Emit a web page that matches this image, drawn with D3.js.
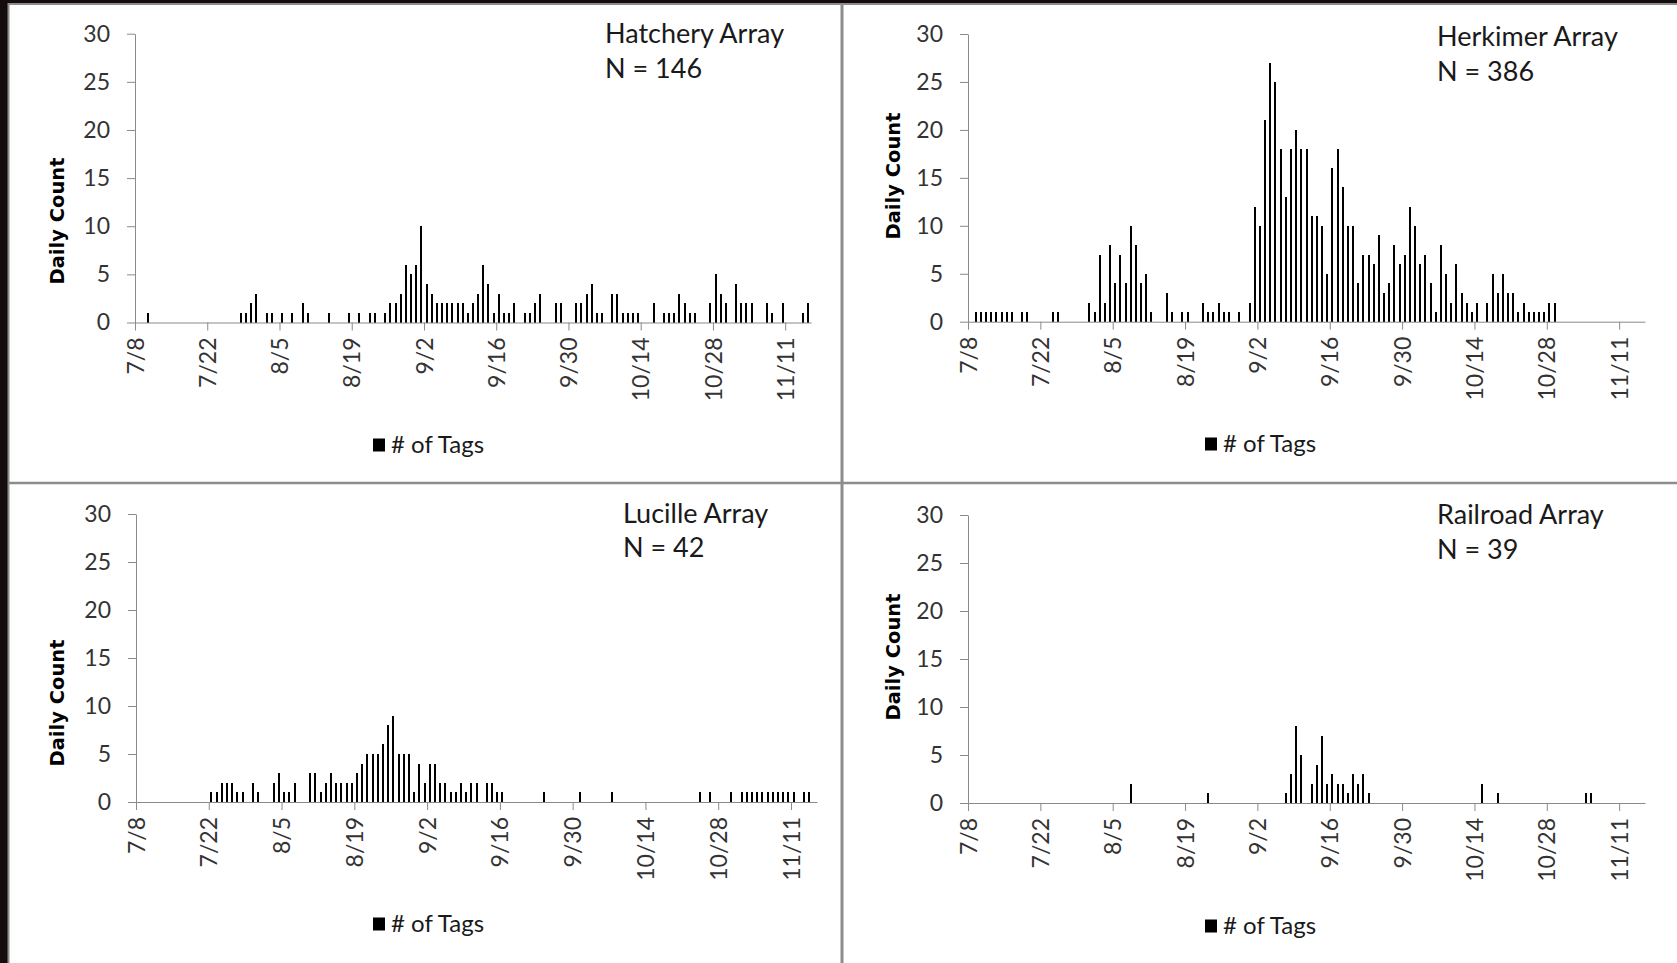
<!DOCTYPE html>
<html>
<head>
<meta charset="utf-8">
<style>
  body { margin: 0; background: #150d0d; }
  svg { display: block; }
  .tick text { font-family: Lato, "Open Sans", sans-serif; font-size: 23px; fill: #333; }
  .axis path, .axis line { stroke: #8a8a8a; stroke-width: 1px; }
  .ttl { font-family: Lato, "Open Sans", sans-serif; font-size: 27px; fill: #1a1a1a; }
  .ylab { font-family: "DejaVu Sans", Verdana, sans-serif; font-weight: bold; font-size: 19.5px; fill: #000; }
  .leg { font-family: Lato, "Open Sans", sans-serif; font-size: 24px; fill: #1a1a1a; }
</style>
<script src="https://cdn.jsdelivr.net/npm/d3@7"></script>
</head>
<body>
<script>
// ---- data ----
var dateTicks = ["7/8", "7/22", "8/5", "8/19", "9/2", "9/16", "9/30", "10/14", "10/28", "11/11"];
var countTicks = [0, 5, 10, 15, 20, 25, 30];
var axisRange = ["7/8", "11/16"];

var hatcheryDates = ["7/10", "7/28", "7/29", "7/30", "7/31", "8/2", "8/3", "8/5", "8/7", "8/9", "8/10", "8/14", "8/18",
  "8/20", "8/22", "8/23", "8/25", "8/26", "8/27", "8/28", "8/29", "8/30", "8/31", "9/1", "9/2", "9/3", "9/4", "9/5",
  "9/6", "9/7", "9/8", "9/9", "9/10", "9/11", "9/12", "9/13", "9/14", "9/15", "9/16", "9/17", "9/18", "9/19", "9/21",
  "9/22", "9/23", "9/24", "9/27", "9/28", "10/1", "10/2", "10/3", "10/4", "10/5", "10/6", "10/8", "10/9", "10/10",
  "10/11", "10/12", "10/13", "10/16", "10/18", "10/19", "10/20", "10/21", "10/22", "10/23", "10/24", "10/27", "10/28",
  "10/29", "10/30", "11/1", "11/2", "11/3", "11/4", "11/7", "11/8", "11/10", "11/14", "11/15"];
var hatcheryCounts = [1, 1, 1, 2, 3, 1, 1, 1, 1, 2, 1, 1, 1,
  1, 1, 1, 1, 2, 2, 3, 6, 5, 6, 10, 4, 3, 2, 2,
  2, 2, 2, 2, 1, 2, 3, 6, 4, 1, 3, 1, 1, 2, 1,
  1, 2, 3, 2, 2, 2, 2, 3, 4, 1, 1, 3, 3, 1,
  1, 1, 1, 2, 1, 1, 1, 3, 2, 1, 1, 2, 5,
  3, 2, 4, 2, 2, 2, 2, 1, 2, 1, 2];

var herkimerDates = ["7/9", "7/10", "7/11", "7/12", "7/13", "7/14", "7/15", "7/16", "7/18", "7/19", "7/24", "7/25",
  "7/31", "8/1", "8/2", "8/3", "8/4", "8/5", "8/6", "8/7", "8/8", "8/9", "8/10", "8/11", "8/12", "8/15", "8/16",
  "8/18", "8/19", "8/22", "8/23", "8/24", "8/25", "8/26", "8/27", "8/29", "8/31", "9/1", "9/2", "9/3", "9/4", "9/5",
  "9/6", "9/7", "9/8", "9/9", "9/10", "9/11", "9/12", "9/13", "9/14", "9/15", "9/16", "9/17", "9/18", "9/19", "9/20",
  "9/21", "9/22", "9/23", "9/24", "9/25", "9/26", "9/27", "9/28", "9/29", "9/30", "10/1", "10/2", "10/3", "10/4",
  "10/5", "10/6", "10/7", "10/8", "10/9", "10/10", "10/11", "10/12", "10/13", "10/14", "10/16", "10/17", "10/18",
  "10/19", "10/20", "10/21", "10/22", "10/23", "10/24", "10/25", "10/26", "10/27", "10/28", "10/29"];
var herkimerCounts = [1, 1, 1, 1, 1, 1, 1, 1, 1, 1, 1, 1,
  2, 1, 7, 2, 8, 4, 7, 4, 10, 8, 4, 5, 1, 3, 1,
  1, 1, 2, 1, 1, 2, 1, 1, 1, 2, 12, 10, 21, 27, 25,
  18, 13, 18, 20, 18, 18, 11, 11, 10, 5, 16, 18, 14, 10, 10,
  4, 7, 7, 6, 9, 3, 4, 8, 6, 7, 12, 10, 6, 7,
  4, 1, 8, 5, 2, 6, 3, 2, 1, 2, 2, 5, 3,
  5, 3, 3, 1, 2, 1, 1, 1, 1, 2, 2];

var lucilleDates = ["7/22", "7/23", "7/24", "7/25", "7/26", "7/27", "7/28", "7/30", "7/31", "8/3", "8/4", "8/5", "8/6",
  "8/7", "8/10", "8/11", "8/12", "8/13", "8/14", "8/15", "8/16", "8/17", "8/18", "8/19", "8/20", "8/21", "8/22",
  "8/23", "8/24", "8/25", "8/26", "8/27", "8/28", "8/29", "8/30", "8/31", "9/1", "9/2", "9/3", "9/4", "9/5", "9/6",
  "9/7", "9/8", "9/9", "9/10", "9/11", "9/13", "9/14", "9/15", "9/16", "9/24", "10/1", "10/7", "10/24", "10/26",
  "10/30", "11/1", "11/2", "11/3", "11/4", "11/5", "11/6", "11/7", "11/8", "11/9", "11/10", "11/11", "11/13", "11/14"];
var lucilleCounts = [1, 1, 2, 2, 2, 1, 1, 2, 1, 2, 3, 1, 1,
  2, 3, 3, 1, 2, 3, 2, 2, 2, 2, 3, 4, 5, 5,
  5, 6, 8, 9, 5, 5, 5, 1, 4, 2, 4, 4, 2, 2, 1,
  1, 2, 1, 2, 2, 2, 2, 1, 1, 1, 1, 1, 1, 1,
  1, 1, 1, 1, 1, 1, 1, 1, 1, 1, 1, 1, 1, 1];

var railroadDates = ["8/8", "8/23", "9/7", "9/8", "9/9", "9/10", "9/12", "9/13", "9/14", "9/15", "9/16", "9/17",
  "9/18", "9/19", "9/20", "9/21", "9/22", "9/23", "10/15", "10/18", "11/4", "11/5"];
var railroadCounts = [2, 1, 1, 3, 8, 5, 2, 4, 7, 2, 3, 2,
  2, 1, 3, 2, 3, 1, 2, 1, 1, 1];

var panelNames = ["Hatchery Array", "Herkimer Array", "Lucille Array", "Railroad Array"];
var panelN = ["N = 146", "N = 386", "N = 42", "N = 39"];
var seriesName = "# of Tags";
var yTitle = "Daily Count";

// ---- layout ----
var width = 1677, height = 963;
var layout = [
  { left: 135, right: 811, top: 33.7, bottom: 322.5, tx: 605, ty: 43, ny: 78, lx: 57, ly: 221, gx: 373, gy: 445 },
  { left: 968, right: 1645, top: 34, bottom: 321.7, tx: 1437, ty: 46, ny: 81, lx: 893, ly: 176, gx: 1205, gy: 444 },
  { left: 136, right: 817, top: 514, bottom: 802, tx: 623, ty: 523, ny: 557, lx: 57, ly: 703, gx: 373, gy: 924 },
  { left: 968, right: 1645, top: 515, bottom: 803, tx: 1437, ty: 524, ny: 559, lx: 893, ly: 657, gx: 1205, gy: 926 }
];

function parseMD(s) {
  var p = s.split("/");
  return new Date(2013, +p[0] - 1, +p[1]);
}

var svg = d3.select("body").append("svg")
  .attr("width", width)
  .attr("height", height);

// white panels with grey frames
svg.append("rect").attr("x", 8).attr("y", 3).attr("width", width - 8).attr("height", height - 3).attr("fill", "#fff");
var frame = "#8c8c8c";
svg.append("line").attr("x1", 8.5).attr("x2", 8.5).attr("y1", 3).attr("y2", height).attr("stroke", frame).attr("stroke-width", 2);
svg.append("line").attr("x1", 8).attr("x2", width).attr("y1", 4).attr("y2", 4).attr("stroke", frame).attr("stroke-width", 2);
svg.append("line").attr("x1", 842).attr("x2", 842).attr("y1", 3).attr("y2", height).attr("stroke", frame).attr("stroke-width", 3);
svg.append("line").attr("x1", 8).attr("x2", width).attr("y1", 483).attr("y2", 483).attr("stroke", frame).attr("stroke-width", 2.5);

var allDates = [hatcheryDates, herkimerDates, lucilleDates, railroadDates];
var allCounts = [hatcheryCounts, herkimerCounts, lucilleCounts, railroadCounts];

allDates.forEach(function(dates, i) {
  var L = layout[i];
  var data = dates.map(function(d, j) { return { date: parseMD(d), count: allCounts[i][j] }; });

  var x = d3.scaleTime()
    .domain(axisRange.map(parseMD))
    .range([L.left, L.right]);
  var y = d3.scaleLinear()
    .domain([0, 30])
    .range([L.bottom, L.top]);

  var g = svg.append("g");

  var bw = 2;
  g.selectAll("rect.bar")
    .data(data)
    .enter()
    .append("rect")
      .attr("class", "bar")
      .attr("x", function(d) { return x(d3.timeHour.offset(d.date, 12)) - bw / 2; })
      .attr("y", function(d) { return y(d.count); })
      .attr("width", bw)
      .attr("height", function(d) { return y(0) - y(d.count); })
      .attr("fill", "#000")
      .attr("shape-rendering", "crispEdges");

  g.append("g")
    .attr("class", "axis")
    .attr("transform", "translate(" + L.left + ",0)")
    .call(d3.axisLeft(y).tickValues(countTicks).tickSize(8).tickSizeOuter(0).tickPadding(17));

  g.append("g")
    .attr("class", "axis")
    .attr("transform", "translate(0," + L.bottom + ")")
    .call(d3.axisBottom(x).tickValues(dateTicks.map(parseMD)).tickFormat(d3.timeFormat("%-m/%-d")).tickSize(8).tickSizeOuter(0))
    .call(function(a) {
      a.selectAll("text")
        .attr("transform", "rotate(-90)")
        .attr("text-anchor", "end")
        .attr("x", -15)
        .attr("y", 0)
        .attr("dy", "0.35em");
    });

  g.selectAll(".axis").attr("font-family", null).attr("font-size", null);

  g.append("text").attr("class", "ttl").attr("x", L.tx).attr("y", L.ty).text(panelNames[i]);
  g.append("text").attr("class", "ttl").attr("x", L.tx).attr("y", L.ny).text(panelN[i]);

  g.append("text")
    .attr("class", "ylab")
    .attr("transform", "translate(" + L.lx + "," + L.ly + ") rotate(-90)")
    .attr("text-anchor", "middle")
    .attr("dy", "0.35em")
    .text(yTitle);

  g.append("rect").attr("x", L.gx).attr("y", L.gy - 6.5).attr("width", 12).attr("height", 13).attr("fill", "#000");
  g.append("text").attr("class", "leg").attr("x", L.gx + 18).attr("y", L.gy).attr("dy", "0.35em").text(seriesName);
});
</script>
</body>
</html>
